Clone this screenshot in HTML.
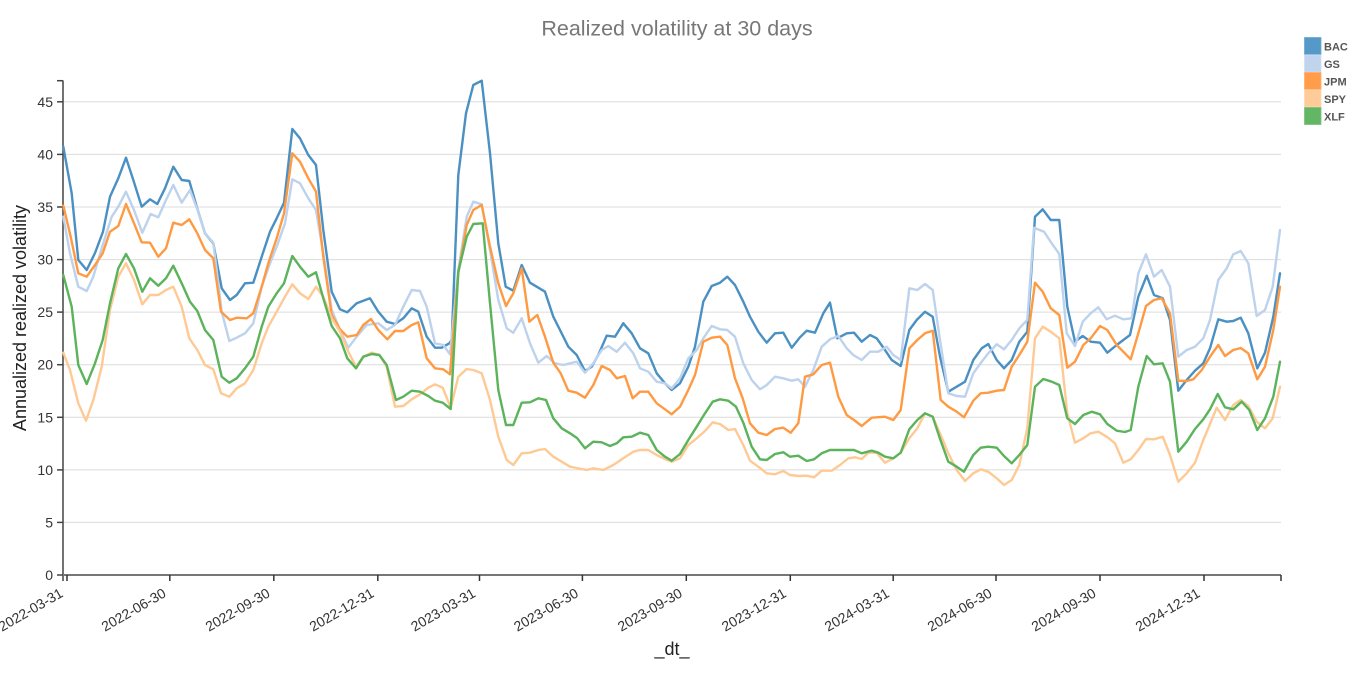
<!DOCTYPE html>
<html>
<head>
<meta charset="utf-8">
<style>
html,body{margin:0;padding:0;background:#fff;}
svg{display:block;font-family:"Liberation Sans",Arial,sans-serif;}
.grid line{stroke:#dcdcdc;stroke-width:1;}
.ytl text{font-size:14px;fill:#333;text-anchor:end;}
.xtl text{font-size:14px;fill:#333;text-anchor:end;}
.s{fill:none;stroke-width:2.4;stroke-linejoin:round;stroke-linecap:round;}
.leg text{font-size:11px;font-weight:bold;fill:#555;}
</style>
</head>
<body>
<svg width="1360" height="677" viewBox="0 0 1360 677" xmlns="http://www.w3.org/2000/svg">
<rect width="1360" height="677" fill="#fff"/>
<text x="677" y="35.5" text-anchor="middle" font-size="21.5" fill="#777">Realized volatility at 30 days</text>

<g class="grid">
<line x1="63" y1="522.4" x2="1281" y2="522.4"/>
<line x1="63" y1="469.9" x2="1281" y2="469.9"/>
<line x1="63" y1="417.3" x2="1281" y2="417.3"/>
<line x1="63" y1="364.7" x2="1281" y2="364.7"/>
<line x1="63" y1="312.1" x2="1281" y2="312.1"/>
<line x1="63" y1="259.6" x2="1281" y2="259.6"/>
<line x1="63" y1="207" x2="1281" y2="207"/>
<line x1="63" y1="154.4" x2="1281" y2="154.4"/>
<line x1="63" y1="101.8" x2="1281" y2="101.8"/>
</g>

<!-- y axis -->
<line x1="63" y1="80.5" x2="63" y2="581" stroke="#444" stroke-width="1.5"/>
<g stroke="#444" stroke-width="1.5">
<line x1="57" y1="80.7" x2="63" y2="80.7"/>
<line x1="57" y1="575" x2="63" y2="575"/>
<line x1="57" y1="522.4" x2="63" y2="522.4"/>
<line x1="57" y1="469.9" x2="63" y2="469.9"/>
<line x1="57" y1="417.3" x2="63" y2="417.3"/>
<line x1="57" y1="364.7" x2="63" y2="364.7"/>
<line x1="57" y1="312.1" x2="63" y2="312.1"/>
<line x1="57" y1="259.6" x2="63" y2="259.6"/>
<line x1="57" y1="207" x2="63" y2="207"/>
<line x1="57" y1="154.4" x2="63" y2="154.4"/>
<line x1="57" y1="101.8" x2="63" y2="101.8"/>
</g>
<g class="ytl">
<text x="53" y="580">0</text>
<text x="53" y="527.4">5</text>
<text x="53" y="474.9">10</text>
<text x="53" y="422.3">15</text>
<text x="53" y="369.7">20</text>
<text x="53" y="317.1">25</text>
<text x="53" y="264.6">30</text>
<text x="53" y="212">35</text>
<text x="53" y="159.4">40</text>
<text x="53" y="106.8">45</text>
</g>
<text transform="translate(26,318) rotate(-90)" text-anchor="middle" font-size="18" fill="#222">Annualized realized volatility</text>

<!-- x axis -->
<line x1="63" y1="575" x2="1281" y2="575" stroke="#777" stroke-width="2"/>
<g stroke="#333" stroke-width="1.5">
<line x1="67" y1="575" x2="67" y2="581"/>
<line x1="169.8" y1="575" x2="169.8" y2="581"/>
<line x1="273.8" y1="575" x2="273.8" y2="581"/>
<line x1="377.8" y1="575" x2="377.8" y2="581"/>
<line x1="479.5" y1="575" x2="479.5" y2="581"/>
<line x1="582.4" y1="575" x2="582.4" y2="581"/>
<line x1="686.3" y1="575" x2="686.3" y2="581"/>
<line x1="790.3" y1="575" x2="790.3" y2="581"/>
<line x1="893.2" y1="575" x2="893.2" y2="581"/>
<line x1="996" y1="575" x2="996" y2="581"/>
<line x1="1100" y1="575" x2="1100" y2="581"/>
<line x1="1204" y1="575" x2="1204" y2="581"/>
<line x1="1281" y1="575" x2="1281" y2="581"/>
</g>
<g class="xtl">
<text transform="translate(64,596) rotate(-30)">2022-03-31</text>
<text transform="translate(167,596) rotate(-30)">2022-06-30</text>
<text transform="translate(271,596) rotate(-30)">2022-09-30</text>
<text transform="translate(375,596) rotate(-30)">2022-12-31</text>
<text transform="translate(476.5,596) rotate(-30)">2023-03-31</text>
<text transform="translate(579.4,596) rotate(-30)">2023-06-30</text>
<text transform="translate(683.3,596) rotate(-30)">2023-09-30</text>
<text transform="translate(787.3,596) rotate(-30)">2023-12-31</text>
<text transform="translate(890.2,596) rotate(-30)">2024-03-31</text>
<text transform="translate(993,596) rotate(-30)">2024-06-30</text>
<text transform="translate(1097,596) rotate(-30)">2024-09-30</text>
<text transform="translate(1201,596) rotate(-30)">2024-12-31</text>
</g>
<text x="672" y="655" text-anchor="middle" font-size="18" fill="#222">_dt_</text>

<!-- series -->
<polyline class="s" stroke="#4a90c2" points="63.3,146.7 71.7,193.3 78.3,260 86.7,270 95,253 103,231.7 110,196.7 118.3,178.3 126,157.7 133.3,180 141.7,206.7 150,199.3 157.3,204 165,188.3 173.3,166.7 181.7,180 189.3,181 196.7,206.7 205,233.3 213.3,243.3 221.7,288.3 230,300 236.7,295 245,283.3 253.3,282.7 261.7,256.7 270,231.7 276.7,218.3 284,202.7 292.3,129 300,138.3 308.3,155 316,165 323.3,230 331.7,291.7 340,309.3 347.3,312.3 356.7,303.3 370,298.3 378.3,311.7 386.7,321.7 395,324 403.3,318.3 411.7,308.3 418.3,311.7 426.7,336.7 435,347.7 441.7,347.7 449.3,343.3 451.7,340 458.3,175 466,113.3 473.3,85 481.7,80.7 490,153.3 498.3,243.3 505.7,286.7 513.3,290.7 521.7,265 530,282.7 545,291.7 553.3,316.7 560,330 568.3,346.7 576.7,355 585,371 591.7,366.7 598.3,355 606.7,335.7 615,336.7 623.3,323.3 631.7,333.3 640,348.3 648.3,353.3 656.7,373.3 665,383.3 671.7,390 680,383.3 688.3,366.7 695,346.7 703.3,301.7 711.7,286 720,282.7 727.3,276.7 735,285 743.3,301.7 750,316.7 758.3,331.7 766.7,342.7 775,333.3 783.3,332.7 791.7,347.7 800,337.3 806.7,330.7 815,332.7 823.3,313.3 830,302.7 837.3,338.3 846.7,333.3 854,332.7 861.7,341.7 870,335 876.7,338.3 885,350 891.7,360 900.7,366 909.3,330 916.7,320 925,311.7 932.7,316.7 940,356.7 948.3,391.7 956.7,386.7 965,381.7 973.3,360 981.7,348.3 988.3,344 996.7,360 1004,368.3 1011.7,360 1019.3,341.7 1027.3,331.7 1035,216.7 1042.7,209.3 1050.7,220 1059.3,220 1067.3,306.7 1075,341.7 1082.7,336 1090.7,341.7 1100,342.7 1107.3,352.7 1116.7,345 1130,335 1138.3,296.7 1146.7,275.7 1154,295 1162.7,298.3 1170,320 1178.3,390.7 1186.7,380 1195,370.7 1203.3,363.3 1210,348.3 1218.3,319.3 1226.7,321.7 1233.3,321 1240.7,317.7 1248.3,333.3 1257.3,368.3 1265,352.7 1273.3,316.7 1280,273.3"/>
<polyline class="s" stroke="#bdd2ec" points="63.3,216.7 70,253.3 78.3,286.7 86.7,291 93.3,276.7 101.7,248.3 111.7,216.7 118.3,206.7 126,191.7 134,210 142.3,232.7 150.7,214 158.3,217.3 166,200 173.3,185 181.7,202.7 190,190 197.3,209.3 205,233.3 213.3,242.7 221.7,311.7 229.3,341 236.7,337.7 245,333.3 253.3,323.3 261.7,286.7 270,263.3 276.7,246.7 285,223.3 292.3,179.3 300,183.3 308.3,198.3 316,210 323.3,253.3 331.7,310 340,330 348.3,347.7 356.7,336.7 366.7,325 378.3,323.3 386.7,330 395,325 403.3,306.7 411.7,290 420,291 426.7,306.7 435,343.3 443.3,345 450,354.3 458.3,270 466.7,216.7 473.3,201.7 481.7,204.3 490,250 498.3,300 506.7,328.3 513.3,332.7 521.7,318.3 530,343.3 538.3,362.7 546.7,356 555,363.3 563.3,365 576.7,361.7 585,372.7 593.3,363.3 601.7,350 608.3,346 616.7,351.7 625,342.7 633.3,353.3 640,368.3 648.3,371.7 656.7,381.7 665,383.3 671.7,388.3 680,378.3 688.3,358.3 696.7,350 703.3,338.3 711.7,326 720,329.3 727.3,330 735,336.7 743.3,363.3 751.7,380 760,389.3 766.7,385 775,376.7 783.3,378.3 791.7,380.7 798.3,379.3 805,386.7 813.3,370 821.7,346.7 830,339.3 838.3,336 846.7,348.3 853.3,355 861.7,360 870,351.7 878.3,351.7 886.7,346.7 893.3,355 900.7,360 909.3,288.3 917.3,290 925,284 932.7,290 940,340 948.3,393.3 956.7,396 965,396.7 973.3,373.3 981.7,361.7 988.3,353.3 996.7,344.3 1004,349.3 1011.7,340 1019.3,328.3 1027.3,320 1034,227.7 1044,231.7 1051.7,243.3 1059.3,254 1066.7,333.3 1075,346 1082.7,321.7 1090.7,313.3 1098.3,307.3 1106.7,319.3 1115,315.7 1123.3,319.3 1131.7,318.3 1138.3,273.3 1146,254.3 1154,276.7 1161.7,270 1170,286.7 1178.3,356.7 1186.7,350 1195,346.7 1203.3,338.3 1210,320 1218.3,280 1226.7,268.3 1233.3,254.3 1240.7,251 1248.3,263.3 1256.7,316 1265,310 1272.7,286.7 1280,230"/>
<polyline class="s" stroke="#ff9a42" points="63.3,205.7 70.7,236.7 78.3,273.3 86.7,276.7 95,265 102.7,253.3 110,231.7 118.3,226 126,204 134,223.3 141.7,242.3 150,242.7 158.3,256.7 166,248.3 173.3,222.7 181.7,225 189.3,219.3 197.3,233.3 205,250 213.3,258.3 221,311.7 230,320 236.7,317.7 246.7,318.3 253.3,313.3 261.7,286.7 268.3,263.3 276.7,238.3 284,213.3 292.3,153.3 300,161.7 308.3,178.3 316,191.7 323.3,256.7 331.7,315 340,329.3 347.3,336.7 356.7,335 363.3,325 371,319 378.3,330 387.3,339.3 395,331 403.3,331 411.7,325 418.3,322.3 426.7,358.3 435,368.3 443.3,369.3 450,374.3 458.3,273.3 466.7,225 473.3,210 481.7,205 490,246.7 498.3,283.3 506,306 513.3,293.3 521.7,268.3 529.3,321.7 537.3,315 545,336.7 553.3,362.7 560.7,373.3 568.3,390.7 576.7,392.7 585,397.7 593.3,385 601.7,366 610,370 616.7,378.3 625,376 632.7,398.3 640,391.7 648.3,391.7 656.7,403.3 665,409.3 671.7,414.3 680,406.7 688.3,390 695,375 703.3,341.7 711.7,337.7 720,336.7 727.3,345 735,378.3 742.7,398.3 750,423.3 758.3,432.7 766.7,435 775,429 783.3,427.7 790.7,432.7 798.3,423.3 805,376.7 813.3,374.3 821.7,365 830,362.7 838.3,396.7 846.7,415 854,420 861.7,426 871.7,417.7 885,416.7 893.3,420 900.7,410 909.3,348.3 917.3,340 925,333.3 932.7,330.7 940.7,400 948.3,406.7 956.7,411.7 964,417.3 973.3,400.7 980.7,393.3 988.3,392.7 996.7,390.7 1004,390 1011.7,366.7 1019.3,355 1027.3,341.7 1035,282.7 1042.7,291.7 1050.7,308.3 1059.3,315 1067.3,367.7 1075,361.7 1083.3,345 1090.7,338.3 1100,326 1107.3,330 1116.7,345 1123.3,351.7 1130.7,359.3 1138.3,333.3 1146,306 1154,300 1161.7,298.3 1170,313.3 1178.3,380.7 1186.7,381 1193.3,379.3 1201.7,370 1210,356.7 1218.3,345 1225,356 1233.3,350 1240.7,348 1248.3,353.3 1257.3,379.3 1265,366.7 1273.3,330 1280,286.7"/>
<polyline class="s" stroke="#ffc994" points="63.3,352.7 70,370 78.3,403.3 86,420.7 93.3,400 101.7,366.7 110,310 118.3,276.7 126,263.3 134,280 142.3,304.3 150,295 158.3,295 166,290 173.3,286.7 181.7,306.7 189.3,338.3 197.3,350 205,365 213.3,369.3 221,393.3 229.3,396.7 236.7,388.3 245,383.3 253.3,370 261.7,343.3 268.3,326.7 276.7,311.7 285,296.7 292.3,284.3 300,293.3 308.3,299 316,286.7 323.3,296.7 331.7,318.3 340,331.7 348.3,351.7 356,366.7 363.3,356.7 371.7,352.7 379.3,355 386.7,366.7 395,406.7 403.3,406 411.7,399.3 420,394.3 428.3,387.7 435,384.3 442.7,387.7 450.7,407.7 458.3,376.7 466.7,369 473.3,370 481.7,373.3 490,400 498.3,436.7 506.7,460 513.3,465 521.7,453.3 530,452.7 538.3,450 545,449 553.3,456.7 561.7,461.7 570,466.7 586.7,470 593.3,468.3 603.3,470 613.3,465 623.3,458.3 633.3,451.7 640,450 648.3,450 656.7,455 665,459 671.7,461.7 680,458.3 688.3,445 696.7,438.3 705,431 712.7,422.3 720,424 728.3,430 735,429 743.3,445 750,460.7 758.3,466.7 766.7,473.3 775,474.3 783.3,471 790,475 798.3,476 806.7,475.7 814,477.3 821.7,470.7 831.7,470.7 840,465 848.3,458.3 855,457.3 861.7,459 868.3,452.7 876.7,452.7 885,462.7 893.3,458.3 900.7,452.7 909.3,438.3 917.3,428.3 925,413.3 932.7,416.7 940.7,435 948.3,453.3 956.7,470 965,481 973.3,473.3 980.7,469.3 988.3,471.7 996.7,478.3 1004,485 1011.7,480 1019.3,465 1027.3,428.3 1035,338.3 1042.7,326.7 1050.7,331.7 1059.3,338.3 1067.3,413.3 1075,442.7 1083.3,438.3 1090.7,433.3 1098.3,431.7 1106.7,436.7 1115,443.3 1123.3,462.7 1130.7,459.3 1138.3,450 1146,439 1154,439.3 1162.7,436.7 1170,455 1178.3,481.7 1186.7,473.3 1195,462.7 1203.3,440 1210,424 1216.7,407.7 1225,420 1233.3,405 1240.7,400 1248.3,406 1256.7,421.7 1265,428.3 1272.7,418.3 1280,386.7"/>
<polyline class="s" stroke="#5bb35b" points="63.3,275 71.7,306.7 78.3,365 86.7,384 95,363.3 102.7,340 110,303.3 118.3,268.3 126,254 134,268.3 142.3,291.7 150,278.3 158.3,285.7 166,278.3 173.3,265.7 181.7,283.3 190,301.7 197.3,311 205,330 213.3,340 221.7,376.7 229.3,382.7 236.7,378.3 245,368.3 253.3,356.7 261.7,326.7 268.3,306.7 276.7,293.3 284,283.3 292.3,256 300,266.7 308.3,276.7 316,272.3 323.3,298.3 331.7,326 340,338.3 347.3,358.3 356,368.3 363.3,356.7 371.7,354 379.3,355 386.7,365 396,400 403.3,396.7 411.7,390.7 420,391.7 428.3,396 435,400.7 442.7,402.7 450.7,409 458.3,271.7 466.7,236.7 473.3,224 482.7,223.3 490,303.3 498.3,390 506,425 513.3,425 521.7,402.7 530,402.3 538.3,398.3 546,400 553.3,418.3 561.7,428.3 570,433.3 577.3,438.3 585,448.3 593.3,441.7 601.7,442.3 610,446 616.7,443.3 623.3,437.3 631.7,436.7 640,432.7 648.3,435 656.7,450 665,456.7 671.7,460.7 680,454 688.3,440 696.7,426.7 705,413.3 712.7,401.7 720,399.3 728.3,400.7 736,406.7 743.3,422.7 751.7,446.7 760,459.3 766.7,460 775,454 783.3,452.3 790,456.7 798.3,455.7 806.7,461 814,459.3 821.7,453.3 830,450 854,450 861.7,453.3 871.7,450.7 878.3,452.7 885,456.7 893.3,458.3 900.7,452.7 909.3,429.3 917.3,420 925,413.3 932.7,416.7 940.7,440.7 948.3,461.7 956.7,466.7 964,471.7 973.3,455 980.7,447.7 988.3,446.7 996.7,447.7 1004,456 1011.7,463.3 1019.3,455 1027.3,445 1035,386.7 1043.3,379 1051.7,381.7 1059.3,385 1067.3,418.3 1075,424 1083.3,415 1091.7,411.7 1100,414.3 1107.3,424 1116.7,430.7 1125,432 1130.7,430 1138.3,386.7 1146.7,356 1154,364.3 1162.7,363.3 1170,381.7 1178.3,451.7 1186.7,441.7 1195,429 1203.3,419.3 1210,409.3 1217.7,394 1225,407.3 1233.3,409.3 1241.7,401.7 1249.3,410 1257.3,430 1265,418.3 1273.3,396.7 1280,361.7"/>

<!-- legend -->
<g class="leg">
<rect x="1304.5" y="37.5" width="16.5" height="17" fill="#5599c9" stroke="#6fa8d2" stroke-width="0.8"/>
<rect x="1304.5" y="55" width="16.5" height="17" fill="#c0d4ee" stroke="#d0def2" stroke-width="0.8"/>
<rect x="1304.5" y="72.5" width="16.5" height="17" fill="#ff9d4a" stroke="#ffb06c" stroke-width="0.8"/>
<rect x="1304.5" y="90" width="16.5" height="17" fill="#ffcb99" stroke="#ffd8b0" stroke-width="0.8"/>
<rect x="1304.5" y="107.5" width="16.5" height="17" fill="#63b663" stroke="#7dc27d" stroke-width="0.8"/>
<text x="1324" y="50.5">BAC</text>
<text x="1324" y="68">GS</text>
<text x="1324" y="85.5">JPM</text>
<text x="1324" y="103">SPY</text>
<text x="1324" y="120.5">XLF</text>
</g>
</svg>
</body>
</html>
